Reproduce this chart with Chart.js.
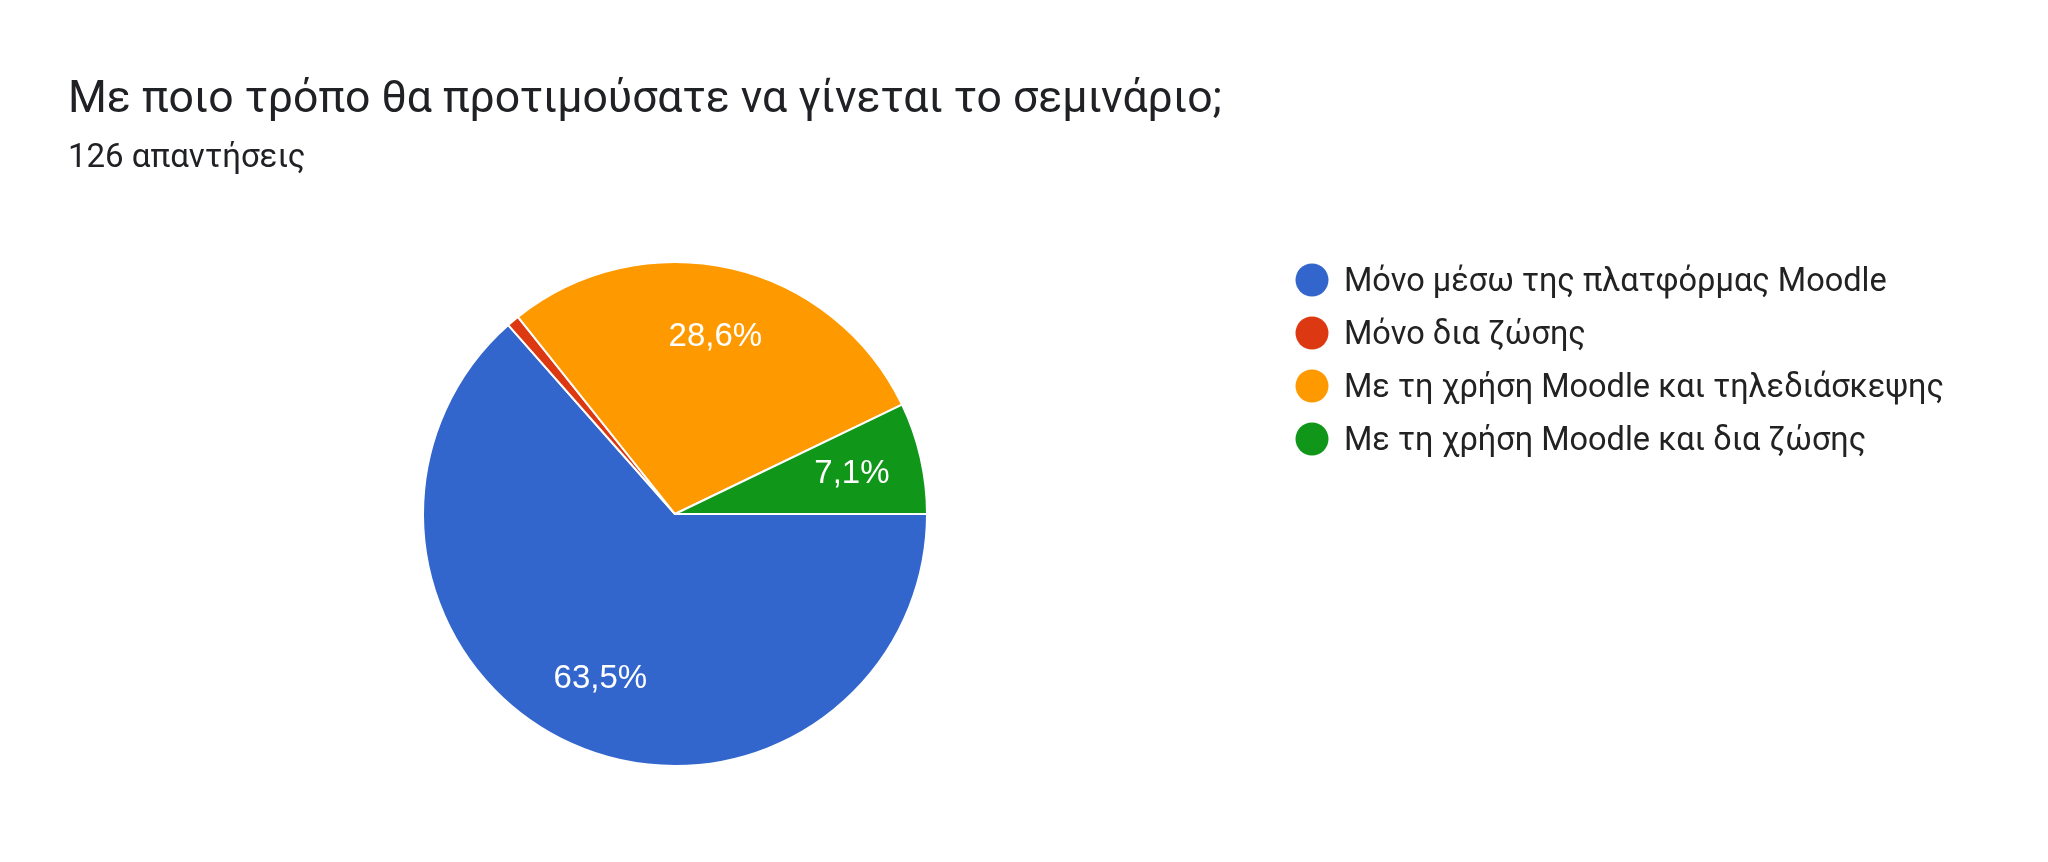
<!DOCTYPE html>
<html>
<head>
<meta charset="utf-8">
<script src="https://cdn.jsdelivr.net/npm/chart.js@4"></script>
<style>
  html, body { margin: 0; padding: 0; background: #fff; }
  #wrap { position: relative; width: 2048px; height: 862px; }
</style>
</head>
<body>
<div id="wrap"><canvas id="c" width="2048" height="862"></canvas></div>
<script>
const titleText = "Με ποιο τρόπο θα προτιμούσατε να γίνεται το σεμινάριο;";
const subtitleText = "126 απαντήσεις";
const categories = [
  "Μόνο μέσω της πλατφόρμας Moodle",
  "Μόνο δια ζώσης",
  "Με τη χρήση Moodle και τηλεδιάσκεψης",
  "Με τη χρήση Moodle και δια ζώσης"
];
const counts = [80, 1, 36, 9];
const colors = ["#3366CC", "#DC3912", "#FF9900", "#109618"];

const total = counts.reduce((a, b) => a + b, 0);

const overlay = {
  id: 'overlay',
  afterDraw(chart) {
    const ctx = chart.ctx;
    ctx.save();
    // Title & subtitle
    ctx.fillStyle = '#202124';
    ctx.textBaseline = 'alphabetic';
    ctx.textAlign = 'left';
    ctx.font = '44.5px Roboto';
    ctx.fillText(titleText, 68, 112);
    ctx.font = '33px Roboto';
    ctx.fillText(subtitleText, 68, 167);

    // Slice labels
    const meta = chart.getDatasetMeta(0);
    ctx.font = '33px "Liberation Sans", Arial';
    ctx.fillStyle = '#ffffff';
    ctx.textAlign = 'center';
    ctx.textBaseline = 'middle';
    meta.data.forEach((arc, i) => {
      const pct = counts[i] / total * 100;
      if (pct < 5) return;
      const p = arc.getProps(['x', 'y', 'startAngle', 'endAngle', 'outerRadius'], true);
      const mid = (p.startAngle + p.endAngle) / 2;
      const r = p.outerRadius * 0.72;
      const label = pct.toFixed(1).replace('.', ',') + '%';
      ctx.fillText(label, p.x + Math.cos(mid) * r, p.y + Math.sin(mid) * r);
    });

    // Legend
    ctx.textAlign = 'left';
    ctx.textBaseline = 'alphabetic';
    ctx.font = '32.5px Roboto';
    categories.forEach((name, i) => {
      const cy = 280 + i * 53;
      ctx.beginPath();
      ctx.arc(1312, cy, 16.5, 0, Math.PI * 2);
      ctx.fillStyle = colors[i];
      ctx.fill();
      ctx.fillStyle = '#222222';
      ctx.fillText(name, 1344, cy + 11);
    });
    ctx.restore();
  }
};

new Chart(document.getElementById('c'), {
  type: 'pie',
  data: {
    labels: categories,
    datasets: [{
      data: counts,
      backgroundColor: colors,
      borderColor: '#ffffff',
      borderWidth: 2,
      hoverOffset: 0
    }]
  },
  options: {
    responsive: false,
    animation: false,
    rotation: 90,
    layout: { padding: { top: 261, bottom: 95, left: 422, right: 1120 } },
    plugins: {
      legend: { display: false },
      tooltip: { enabled: false },
      title: { display: false }
    }
  },
  plugins: [overlay]
});
</script>
</body>
</html>
